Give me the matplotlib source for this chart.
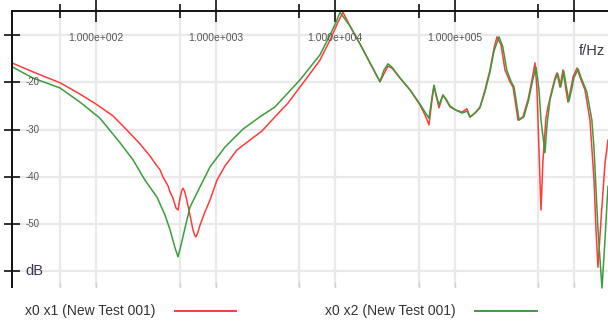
import numpy as np
import matplotlib
matplotlib.use("Agg")
import matplotlib.pyplot as plt
from matplotlib.lines import Line2D

plt.rcParams['font.family'] = ['Liberation Sans', 'DejaVu Sans']

# x0 x1 (red) - frequency in Hz, level in dB
red_f = [19.8, 29.7, 50, 73.5, 100, 138.7, 178, 233, 283, 311, 343, 363, 400, 416, 440,
         467, 485, 500, 520, 534, 550, 566, 590, 611, 647, 670, 686, 710, 741,
         815, 898, 1027, 1198, 1510, 1940, 2443, 3139, 4029, 5078, 6156, 7464, 9048,
         10555, 11620,
         13300, 16120, 19540, 23690, 25590, 27640, 29850, 34830, 42220, 51170, 56350,
         60850, 64480, 67010, 69640, 73780, 79660, 84410, 91180, 102330, 114860,
         126480, 134000, 147550, 162450, 178900, 196970, 212750, 225390, 243460,
         262920, 289500, 306700, 318700, 337600, 371700, 409300, 442000, 468300,
         486700, 505800, 525600, 546400, 578800, 601500, 649700, 688300, 715300,
         757800, 802900, 850700, 884000, 936700, 973400, 1051200, 1114000, 1226000,
         1350000, 1459000, 1516000, 1575000, 1669000, 1803000, 1910000]
red_db = [-15.9, -17.8, -20.1, -22.5, -24.6, -27.1, -29.9, -33.0, -35.6, -37.1, -38.5,
          -40.0, -41.9, -43.2, -44.5, -46.6, -47.0, -45.0, -43.0, -42.4, -43.0, -44.2,
          -46.3, -48.1, -51.2, -52.4, -52.7, -51.8, -50.2,
          -47.4, -44.9, -40.7, -37.7, -34.3, -32.2, -30.3, -27.3, -24.4, -21.0, -18.2,
          -15.3, -11.1, -7.3, -5.2,
          -8.1, -11.9, -15.9, -19.9, -18.2, -16.6, -17.0, -19.1, -21.6, -24.8, -26.9,
          -29.0, -23.7, -20.8, -22.7, -25.4, -22.7, -23.7, -25.2, -25.9, -26.3,
          -25.6, -27.4, -26.5, -25.2, -21.6, -17.4, -12.8, -10.4, -12.1,
          -17.4, -19.9, -21.0, -23.7, -28.0, -27.3, -23.7, -19.5, -15.9,
          -21.6, -34.3, -47.0, -36.4, -27.5, -25.2, -21.6, -19.1, -18.0,
          -21.0, -17.4, -21.6, -24.2, -21.2, -18.9, -17.0, -18.9, -21.6,
          -28.0, -40.7, -51.2, -59.1, -49.1, -37.1, -32.2]

# x0 x2 (green)
green_f = [19.8, 29.7, 50, 73.5, 108, 159, 204, 257, 324, 378, 416, 458, 485, 514, 555,
           611, 741, 898, 1198, 1695, 2350, 3139, 5078, 7464, 9048, 10155, 10968,
           13300, 16120, 19540, 23690, 25590, 27640, 29850, 34830, 42220, 51170, 56350,
           60850, 64480, 67010, 69640, 73780, 79660, 84410, 91180, 102330, 114860,
           126480, 134000, 147550, 162450, 178900, 196970, 212750, 234270, 252000,
           272000, 296000, 313000, 325000, 345000, 378000, 415000, 448000, 478000,
           505800, 525600, 567800, 590000, 625200, 688300, 728000, 770000, 815000,
           865000, 900000, 955000, 990000, 1075000, 1140000, 1270000, 1400000,
           1459000, 1575000, 1701000, 1803000, 1873000, 1910000]
green_db = [-16.7, -19.1, -21.2, -24.2, -27.6, -32.8, -36.4, -40.7, -44.3, -48.1, -51.2,
            -55.0, -56.9, -54.4, -50.8, -46.4, -42.1, -37.9, -33.7, -29.9, -27.3, -25.2,
            -19.5, -14.2, -10.0, -7.3, -5.2,
            -8.1, -11.9, -15.9, -19.9, -17.4, -16.1, -16.8, -19.1, -21.6, -24.6, -26.3,
            -27.6, -23.2, -20.6, -22.5, -24.8, -22.7, -23.5, -25.0, -25.9, -26.5,
            -26.1, -27.3, -26.5, -25.4, -22.0, -17.8, -13.4, -10.4, -12.5,
            -17.4, -19.9, -21.0, -23.7, -28.0, -27.3, -23.7, -19.5, -16.8,
            -21.6, -28.0, -34.9, -29.0, -23.7, -19.5, -18.2, -21.0, -17.6,
            -21.6, -24.0, -21.2, -19.1, -17.2, -19.1, -22.0, -28.0,
            -34.0, -51.2, -63.5, -53.3, -45.5, -42.0]

series_names = ["x0 x1 (New Test 001)", "x0 x2 (New Test 001)"]
y_ticks = [-10, -20, -30, -40, -50, -60]
y_labels = ["", "-20", "-30", "-40", "-50", "dB"]
x_decades = [100, 1000, 10000, 100000]
x_decade_labels = ["1.000e+002", "1.000e+003", "1.000e+004", "1.000e+005"]
x_grid = [50, 100, 500, 1000, 5000, 10000, 50000, 100000, 500000, 1000000]

RED = '#ff3b3b'
GREEN = '#3c9c3c'

fig = plt.figure(figsize=(6.08, 3.25), dpi=100)
W, H = 608, 325
ax = fig.add_axes([12 / W, 1 - 287 / H, 596 / W, 276 / H])
ax.set_xscale('log')
ax.set_xlim(19.85, 1.91e6)
ax.set_ylim(-63.28, -4.93)

# grid
for g in x_grid:
    ax.axvline(g, color='#e9e9e9', lw=1.6, zorder=0)
for t in y_ticks:
    ax.axhline(t, color='#e9e9e9', lw=1.6, zorder=0)

ax.plot(red_f, red_db, color=RED, lw=1.1, clip_on=False, zorder=3)
ax.plot(green_f, green_db, color=GREEN, lw=1.1, clip_on=False, zorder=3)

for s in ['right', 'bottom']:
    ax.spines[s].set_visible(False)
for s in ['left', 'top']:
    ax.spines[s].set_color('#111111')
    ax.spines[s].set_linewidth(1.4)
    ax.spines[s].set_zorder(4)

ax.set_yticks(y_ticks)
ax.set_yticklabels([])
ax.tick_params(axis='y', direction='inout', length=11, width=1.3, color='#222222')
ax.xaxis.set_ticks_position('top')
ax.set_xticks(x_decades + [1000000])
ax.set_xticks([50, 500, 5000, 50000, 500000], minor=True)
ax.set_xticklabels([])
ax.set_xticklabels([], minor=True)
ax.tick_params(axis='x', which='major', direction='inout', length=16, width=1.3, color='#222222')
ax.tick_params(axis='x', which='minor', direction='inout', length=10, width=1.3, color='#222222')

# y labels inside the plot
for t, lab in zip(y_ticks, y_labels):
    if lab == "dB":
        ax.text(0.022, t, lab, transform=ax.get_yaxis_transform(), ha='left', va='center',
                fontsize=10.5, color='#3d3550')
    elif lab:
        ax.text(0.022, t, lab, transform=ax.get_yaxis_transform(), ha='left', va='center',
                fontsize=7, color='#555555')

# decade labels under the top axis
for f, lab in zip(x_decades, x_decade_labels):
    ax.text(f, -10.6, lab, ha='center', va='center', fontsize=7.5, color='#555555')

ax.text(1.40e6, -13.4, "f/Hz", ha='center', va='center', fontsize=10.5, color='#3d3550')

# small gray marks along the bottom
for g in x_grid:
    ax.plot([g, g], [-63.28, -62.4], color='#cfcfcf', lw=1.0, clip_on=False)

# legend row
ly = 1 - 311 / H
fig.text(25 / W, ly, series_names[0], ha='left', va='center', fontsize=10, color='#333333')
fig.add_artist(Line2D([175 / W, 236 / W], [ly, ly], color=RED, lw=1.4))
fig.text(325 / W, ly, series_names[1], ha='left', va='center', fontsize=10, color='#333333')
fig.add_artist(Line2D([475 / W, 537 / W], [ly, ly], color=GREEN, lw=1.4))

fig.savefig("out.png", dpi=100)
